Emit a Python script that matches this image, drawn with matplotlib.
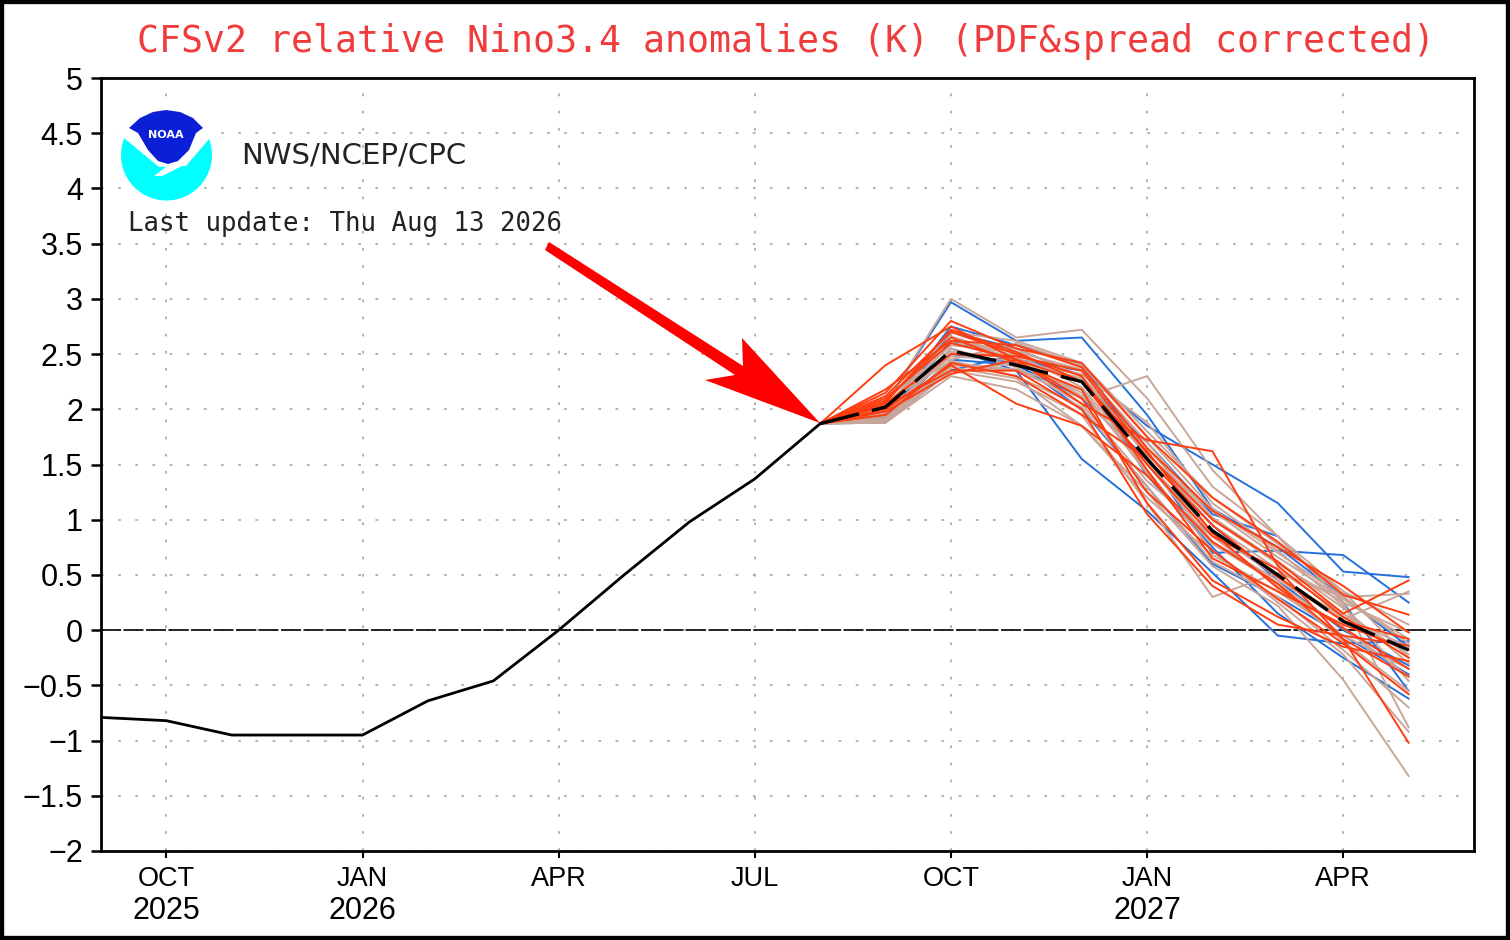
import matplotlib
matplotlib.use('Agg')
import matplotlib.pyplot as plt
from matplotlib.patches import Polygon, Ellipse, Rectangle

W, H = 1510, 940

# months counted from Sep 2025
obs_x = [0, 1, 2, 3, 4, 5, 6, 7, 8, 9, 10, 11]
obs_y = [-0.79, -0.82, -0.95, -0.95, -0.95, -0.64, -0.46, 0.0, 0.5, 0.98, 1.37, 1.87]

fc_x = [11, 12, 13, 14, 15, 16, 17, 18, 19, 20]
mean_y = [1.87, 2.02, 2.53, 2.40, 2.25, 1.55, 0.90, 0.50, 0.08, -0.18]

blue = [
    [1.87, 2.05, 2.97, 2.62, 2.65, 1.95, 1.10, 0.75, 0.30, -0.15],
    [1.87, 1.95, 2.55, 2.35, 1.55, 1.08, 0.52, -0.05, -0.12, -0.10],
    [1.87, 1.92, 2.62, 2.45, 2.35, 1.85, 1.50, 1.15, 0.53, 0.48],
    [1.87, 1.90, 2.45, 2.40, 2.10, 1.55, 0.70, 0.72, 0.68, 0.25],
    [1.87, 1.88, 2.35, 2.50, 2.25, 1.70, 1.05, 0.85, 0.25, -0.55],
    [1.87, 1.90, 2.70, 2.55, 2.30, 1.40, 0.75, 0.15, -0.25, -0.62],
    [1.87, 1.93, 2.50, 2.42, 2.00, 1.30, 0.60, 0.30, -0.05, -0.40],
    [1.87, 1.98, 2.75, 2.58, 2.40, 1.60, 0.95, 0.45, 0.00, -0.32],
]
tan = [
    [1.87, 2.05, 3.00, 2.65, 2.72, 2.10, 1.30, 0.85, 0.35, -0.25],
    [1.87, 1.88, 2.30, 2.18, 1.85, 1.25, 0.58, 0.22, -0.45, -1.32],
    [1.87, 1.88, 2.35, 2.25, 1.95, 1.15, 0.30, 0.52, 0.30, 0.33],
    [1.87, 1.90, 2.40, 2.35, 2.10, 2.30, 1.45, 0.85, 0.25, -0.02],
    [1.87, 1.95, 2.50, 2.50, 2.20, 1.50, 0.80, 0.45, 0.10, 0.35],
    [1.87, 2.00, 2.60, 2.55, 2.30, 1.65, 1.00, 0.60, 0.25, -0.88],
    [1.87, 2.08, 2.65, 2.45, 2.15, 1.45, 0.72, 0.25, -0.22, -0.92],
    [1.87, 1.90, 2.45, 2.60, 2.40, 1.75, 1.10, 0.70, 0.30, -0.12],
    [1.87, 1.95, 2.55, 2.38, 2.05, 1.35, 0.85, 0.40, -0.10, -0.55],
    [1.87, 2.02, 2.70, 2.62, 2.42, 1.80, 1.20, 0.78, 0.35, 0.05],
    [1.87, 1.90, 2.38, 2.28, 1.85, 1.20, 0.68, 0.35, -0.05, -0.35],
    [1.87, 1.98, 2.48, 2.44, 2.28, 1.60, 0.95, 0.55, 0.15, -0.22],
    [1.87, 2.04, 2.58, 2.52, 2.36, 1.70, 1.02, 0.62, 0.20, -0.30],
    [1.87, 1.92, 2.42, 2.36, 2.18, 1.42, 0.78, 0.42, 0.02, -0.42],
    [1.87, 2.00, 2.66, 2.48, 2.12, 1.52, 0.88, 0.48, 0.12, -0.15],
    [1.87, 1.94, 2.52, 2.46, 2.26, 1.58, 1.08, 0.66, 0.28, -0.08],
    [1.87, 2.06, 2.44, 2.30, 2.02, 1.30, 0.62, 0.30, -0.18, -0.70],
    [1.87, 1.96, 2.34, 2.42, 2.32, 1.88, 1.15, 0.72, 0.22, -0.46],
]
red = [
    [1.87, 2.40, 2.75, 2.45, 2.05, 1.72, 1.62, 0.58, 0.12, -0.25],
    [1.87, 2.00, 2.40, 2.05, 1.85, 1.40, 0.80, 0.42, -0.08, -0.42],
    [1.87, 2.10, 2.60, 2.45, 2.25, 1.50, 0.85, 0.55, -0.08, -1.02],
    [1.87, 2.05, 2.50, 2.48, 2.35, 1.60, 1.00, 0.62, 0.15, 0.45],
    [1.87, 2.15, 2.80, 2.55, 2.42, 1.75, 1.20, 0.80, 0.32, 0.14],
    [1.87, 2.12, 2.70, 2.50, 2.30, 1.45, 0.65, 0.35, 0.05, -0.18],
    [1.87, 1.98, 2.32, 2.45, 2.10, 1.25, 0.72, 0.28, -0.12, -0.58],
    [1.87, 2.08, 2.65, 2.42, 2.18, 1.15, 0.45, 0.12, -0.15, -0.28],
    [1.87, 2.03, 2.35, 2.35, 2.00, 1.05, 0.40, 0.05, -0.05, -0.14],
    [1.87, 2.18, 2.62, 2.58, 2.38, 1.65, 1.08, 0.75, 0.40, -0.02],
    [1.87, 1.95, 2.42, 2.30, 1.95, 1.55, 0.95, 0.48, 0.08, -0.08],
    [1.87, 2.06, 2.72, 2.52, 2.25, 1.62, 0.88, 0.38, 0.02, -0.35],
]

x_ticks = [1, 4, 7, 10, 13, 16, 19]
x_labels = ['OCT', 'JAN', 'APR', 'JUL', 'OCT', 'JAN', 'APR']
x_years = ['2025', '2026', '', '', '', '2027', '']
y_ticks = [-2, -1.5, -1, -0.5, 0, 0.5, 1, 1.5, 2, 2.5, 3, 3.5, 4, 4.5, 5]
y_labels = ['\u22122', '\u22121.5', '\u22121', '\u22120.5', '0', '0.5', '1', '1.5', '2',
            '2.5', '3', '3.5', '4', '4.5', '5']

fig = plt.figure(figsize=(W / 100, H / 100), dpi=100)
ax = fig.add_axes([101 / W, 1 - 851 / H, 1373 / W, 773 / H])
ax.set_xlim(0, 21)
ax.set_ylim(-2, 5)


# pixel coordinates of the picture -> figure fraction
def px(points):
    return [(x / W, 1 - y / H) for x, y in points]


ax.grid(True, color='#adadad', linestyle=(0, (1.5, 8)), linewidth=1.3)
ax.set_axisbelow(True)
ax.axhline(0, color='black', linewidth=1.2, linestyle=(0, (12, 1.5)), zorder=2)

for row in blue:
    ax.plot(fc_x, row, color='#2470dc', linewidth=1.4, zorder=3)
for row in tan:
    ax.plot(fc_x, row, color='#c9a699', linewidth=1.4, zorder=4)
for row in red:
    ax.plot(fc_x, row, color='#ff3d10', linewidth=1.4, zorder=5)

ax.plot(obs_x, obs_y, color='black', linewidth=2.0, zorder=6)
ax.plot(fc_x, mean_y, color='black', linewidth=2.4, linestyle=(0, (12, 4)), zorder=7)

ax.set_xticks(x_ticks)
ax.set_xticklabels([])
ax.set_yticks(y_ticks)
ax.set_yticklabels(y_labels, family=['Liberation Sans', 'DejaVu Sans'], fontsize=22)
ax.tick_params(axis='y', length=7, width=1.8, pad=6)
ax.tick_params(axis='x', length=5, width=1.5)
for s in ax.spines.values():
    s.set_linewidth(2.0)

# two line month/year labels
for t, m, yr in zip(x_ticks, x_labels, x_years):
    xp = 101 + t * 1373 / 21
    fig.text(xp / W, 1 - 879 / H, m, ha='center', va='center', fontsize=19.5,
             family='Liberation Sans')
    if yr:
        fig.text(xp / W, 1 - 911 / H, yr, ha='center', va='center', fontsize=22,
                 family='Liberation Sans')

fig.text(786 / W, 1 - 41 / H, 'CFSv2 relative Nino3.4 anomalies (K) (PDF&spread corrected)',
         color='#f03c3c', ha='center', va='center', fontsize=26.3, family='DejaVu Sans Mono')
fig.text(241 / W, 1 - 156 / H, 'NWS/NCEP/CPC', ha='left', va='center', fontsize=21,
         family='DejaVu Sans', color='#222222')
fig.text(128 / W, 1 - 224 / H, 'Last update: Thu Aug 13 2026', ha='left', va='center',
         fontsize=18.5, family='DejaVu Sans Mono', color='#222222')

# NOAA logo
fig.add_artist(Ellipse((166.5 / W, 1 - 155 / H), 91 / W, 91 / H, facecolor='#00ffff',
                       edgecolor='none', zorder=8))
notch = [(112, 100), (222, 100), (222, 130), (210, 138), (186, 166), (159, 167), (124, 138), (112, 128)]
fig.add_artist(Polygon(px(notch), closed=True, facecolor='white', edgecolor='none', zorder=8))
wing = [(154, 176), (166, 167), (186, 164), (172, 171), (162, 176)]
fig.add_artist(Polygon(px(wing), closed=True, facecolor='white', edgecolor='none', zorder=9))
navy = [(129, 128), (140, 118), (153, 112), (166, 110), (180, 112), (193, 118), (203, 128),
        (196, 133), (189, 150), (178, 161), (168, 164), (158, 161), (148, 150), (138, 133)]
fig.add_artist(Polygon(px(navy), closed=True, facecolor='#0a1fd6', edgecolor='none', zorder=9))
fig.text(166 / W, 1 - 135 / H, 'NOAA', color='white', ha='center', va='center', fontsize=8,
         fontweight='bold', family='DejaVu Sans', zorder=10)

# red arrow
arrow = [(549, 242), (743, 366), (742, 338), (820, 423), (705, 380), (735, 375), (545, 250)]
fig.add_artist(Polygon(px(arrow), closed=True, facecolor='#ff0000', edgecolor='none', zorder=9))

# black picture frame
fig.add_artist(Rectangle((0, 0), 1, 1, transform=fig.transFigure, fill=False,
                         edgecolor='black', linewidth=6, zorder=20))

fig.savefig('out.png', dpi=100)
